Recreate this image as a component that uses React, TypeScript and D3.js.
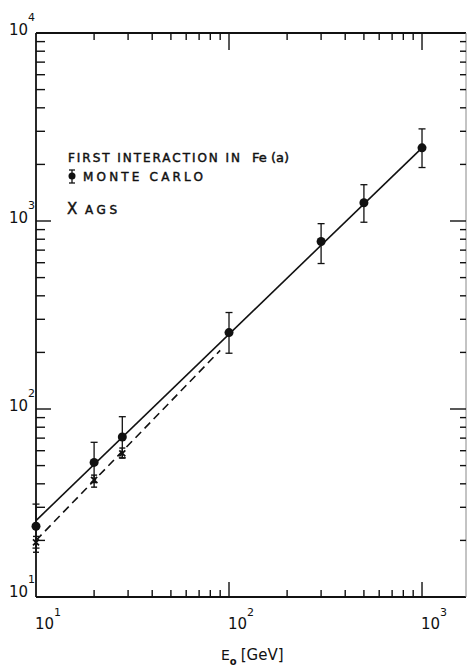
import React from "react";
import * as d3 from "d3";

const mcEnergy = [10, 20, 28, 100, 300, 500, 1000];
const mcValue = [23.8, 52, 71, 255, 778, 1250, 2450];
const mcErrHi = [31.2, 66.5, 91, 326, 968, 1560, 3090];
const mcErrLo = [18.2, 40.6, 55, 198, 594, 985, 1925];

const agsEnergy = [10, 20, 28];
const agsValue = [19.5, 42, 58];
const agsErrHi = [21, 44.5, 62];
const agsErrLo = [17.3, 38.4, 54.8];

const mcFitEnergy = [10, 1000];
const mcFitValue = [25.5, 2450];
const agsFitEnergy = [10, 90];
const agsFitValue = [20, 205];

const xDomain = [10, 1690];
const yDomain = [10, 10000];
const xMajorLabels = ["1", "2", "3"];
const yMajorLabels = ["1", "2", "3", "4"];

const W = 467;
const H = 667;
const L = 36, R = 466, T = 33, B = 597;
const FONT = "'DejaVu Sans', sans-serif";

export default function App() {
  const x = d3.scaleLog().domain(xDomain).range([L, R]);
  const y = d3.scaleLog().domain(yDomain).range([B, T]);
  const isMajor = (v: number) => Math.abs(Math.log10(v) - Math.round(Math.log10(v))) < 1e-9;
  const xt = x.ticks().filter((v) => v > xDomain[0] && v < xDomain[1]);
  const yt = y.ticks().filter((v) => v > yDomain[0] && v < yDomain[1]);
  const line = d3
    .line<[number, number]>()
    .x((d) => x(d[0]))
    .y((d) => y(d[1]));
  const mcFit = mcFitEnergy.map((e, i) => [e, mcFitValue[i]] as [number, number]);
  const agsFit = agsFitEnergy.map((e, i) => [e, agsFitValue[i]] as [number, number]);
  const sw = 1.6;

  return (
    <svg
      width={W}
      height={H}
      style={{ position: "absolute", left: 0, top: 0, background: "#fff" }}
      fontFamily={FONT}
    >
      <rect x={0} y={0} width={W} height={H} fill="#fff" />
      {/* frame */}
      <g stroke="#111" strokeWidth={1.8} fill="none">
        <line x1={L} x2={R} y1={T} y2={T} />
        <line x1={L} x2={R} y1={B} y2={B} />
        <line x1={L} x2={L} y1={T} y2={B} />
        <line x1={R} x2={R} y1={T} y2={B} stroke="#888" strokeWidth={1} />
      </g>
      {/* ticks */}
      <g stroke="#111" strokeWidth={1.4}>
        {xt.map((v) => {
          const major = isMajor(v);
          const px = x(v);
          return (
            <g key={"x" + v}>
              <line x1={px} x2={px} y1={B} y2={B - (major ? 15 : 7)} />
              <line x1={px} x2={px} y1={T} y2={T + (major ? 17 : 7)} />
            </g>
          );
        })}
        {yt.map((v) => {
          const major = isMajor(v);
          const py = y(v);
          return (
            <g key={"y" + v}>
              <line x1={L} x2={L + (major ? 15 : 9)} y1={py} y2={py} />
              <line x1={R} x2={R - (major ? 16 : 6)} y1={py} y2={py} />
            </g>
          );
        })}
      </g>
      {/* tick labels */}
      <g fill="#111">
        {[10, 100, 1000].map((v, i) => (
          <text key={"xl" + v} x={x(v) - 1} y={629} fontSize={15}>
            10
            <tspan dy={-13} fontSize={11}>
              {xMajorLabels[i]}
            </tspan>
          </text>
        ))}
        {[10, 100, 1000, 10000].map((v, i) => (
          <text key={"yl" + v} x={9} y={Math.min(y(v) + 2, B)} fontSize={15}>
            10
            <tspan dy={-14} fontSize={11}>
              {yMajorLabels[i]}
            </tspan>
          </text>
        ))}
        <text x={221} y={660} fontSize={14}>
          E
          <tspan dy={5} fontSize={10} fontWeight="bold">
            o
          </tspan>
          <tspan dy={-5} dx={4} fontSize={15}>
            [GeV]
          </tspan>
        </text>
      </g>
      {/* fit lines */}
      <path d={line(mcFit) || ""} stroke="#111" strokeWidth={sw} fill="none" />
      <path d={line(agsFit) || ""} stroke="#111" strokeWidth={sw} fill="none" strokeDasharray="8,5" />
      {/* MC points */}
      <g stroke="#111" strokeWidth={1.3} fill="#111">
        {mcEnergy.map((e, i) => {
          const px = x(e);
          return (
            <g key={"mc" + e}>
              <line x1={px} x2={px} y1={y(mcErrHi[i])} y2={y(mcErrLo[i])} />
              <line x1={px - 3.5} x2={px + 3.5} y1={y(mcErrHi[i])} y2={y(mcErrHi[i])} />
              <line x1={px - 3.5} x2={px + 3.5} y1={y(mcErrLo[i])} y2={y(mcErrLo[i])} />
              <circle cx={px} cy={y(mcValue[i])} r={4.5} stroke="none" />
            </g>
          );
        })}
      </g>
      {/* AGS points */}
      <g stroke="#111" strokeWidth={1.4} fill="none">
        {agsEnergy.map((e, i) => {
          const px = x(e);
          const py = y(agsValue[i]);
          return (
            <g key={"ags" + e}>
              <line x1={px} x2={px} y1={y(agsErrHi[i])} y2={y(agsErrLo[i])} />
              <line x1={px - 3} x2={px + 3} y1={y(agsErrHi[i])} y2={y(agsErrHi[i])} />
              <line x1={px - 3} x2={px + 3} y1={y(agsErrLo[i])} y2={y(agsErrLo[i])} />
              <line x1={px - 3} x2={px + 3} y1={py - 3} y2={py + 3} strokeWidth={1.8} />
              <line x1={px - 3} x2={px + 3} y1={py + 3} y2={py - 3} strokeWidth={1.8} />
            </g>
          );
        })}
      </g>
      {/* legend */}
      <g fill="#111" fontSize={12} stroke="#111" strokeWidth={0.45}>
        <text x={68} y={162} textLength={172} lengthAdjust="spacing">
          FIRST INTERACTION IN
        </text>
        <text x={252} y={162} fontSize={13}>
          Fe (a)
        </text>
        <g strokeWidth={1.3}>
          <line x1={72} x2={72} y1={170} y2={183} />
          <line x1={69} x2={75} y1={170} y2={170} />
          <line x1={69} x2={75} y1={183} y2={183} />
          <circle cx={72} cy={176} r={3.5} stroke="none" />
        </g>
        <text x={83} y={181} textLength={120} lengthAdjust="spacing">
          MONTE CARLO
        </text>
        <text x={67} y={214} fontSize={15}>
          X
        </text>
        <text x={85} y={214} textLength={32} lengthAdjust="spacing">
          AGS
        </text>
      </g>
    </svg>
  );
}
